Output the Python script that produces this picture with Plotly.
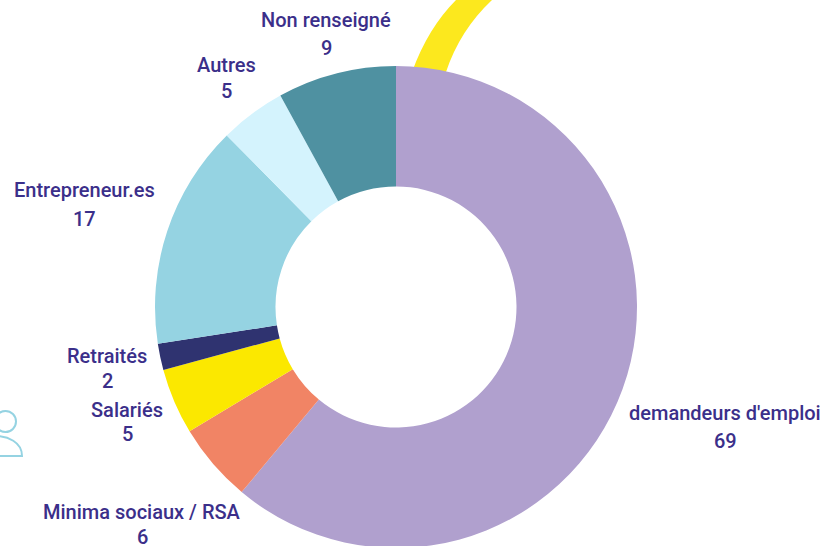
import plotly.graph_objects as go

categories = ["demandeurs d'emploi", "Minima sociaux / RSA", "Salariés", "Retraités", "Entrepreneur.es", "Autres", "Non renseigné"]
values = [69, 6, 5, 2, 17, 5, 9]
colors = ["#b0a0ce", "#f18465", "#fbe800", "#2f3370", "#95d3e2", "#d4f3fd", "#4f91a1"]
label_x = [725, 142, 127, 107, 84, 226, 326]
name_y = [413, 512, 410, 356, 190, 65, 20]
value_y = [441, 537, 434, 381, 219, 91, 48]

W, H = 826, 548
TEXT = "#3b2f8a"
FONT = "Roboto"

fig = go.Figure(go.Pie(
    labels=categories, values=values, hole=0.5, sort=False, direction="clockwise", rotation=0,
    marker=dict(colors=colors, line=dict(width=0)), textinfo="none", hoverinfo="label+value",
    showlegend=False,
    domain=dict(x=[155 / W, 637 / W], y=[0, (H - 66) / H]),
))

ann = []
for c, v, x, y1, y2 in zip(categories, values, label_x, name_y, value_y):
    for txt, y in ((c, y1), (str(v), y2)):
        ann.append(dict(text=txt, x=x / W, y=1 - y / H, xref="paper", yref="paper",
                        xanchor="center", yanchor="middle", showarrow=False,
                        font=dict(family=FONT, size=20, color=TEXT, weight=500)))

shapes = [
    dict(type="path", layer="below", xref="paper", yref="paper", line=dict(width=0), fillcolor="#fce81e",
         path="M %f %f L %f %f Q %f %f %f %f L %f %f Q %f %f %f %f Z" % (
             412 / W, 1 - 72 / H, 446 / W, 1 - 72 / H, 460 / W, 1 - 30 / H, 492 / W, 1.0,
             456 / W, 1.0, 428 / W, 1 - 28 / H, 412 / W, 1 - 72 / H)),
    dict(type="circle", xref="paper", yref="paper", line=dict(color="#95d3e2", width=2),
         x0=-5 / W, x1=16 / W, y0=1 - 432 / H, y1=1 - 411 / H),
    dict(type="path", xref="paper", yref="paper", line=dict(color="#95d3e2", width=2),
         path="M %f %f C %f %f %f %f %f %f L %f %f L %f %f" % (
             -6 / W, 1 - 436 / H, 8 / W, 1 - 436 / H, 22 / W, 1 - 442 / H, 22 / W, 1 - 456 / H,
             -6 / W, 1 - 456 / H, -6 / W, 1 - 436 / H)),
]

fig.update_layout(width=W, height=H, margin=dict(l=0, r=0, t=0, b=0), paper_bgcolor="white",
                  annotations=ann, shapes=shapes)
fig.write_html("out.html", config=dict(displayModeBar=False),
               post_script="document.documentElement.style.overflow='hidden';document.body.style.overflow='hidden';document.body.style.margin='0';")
